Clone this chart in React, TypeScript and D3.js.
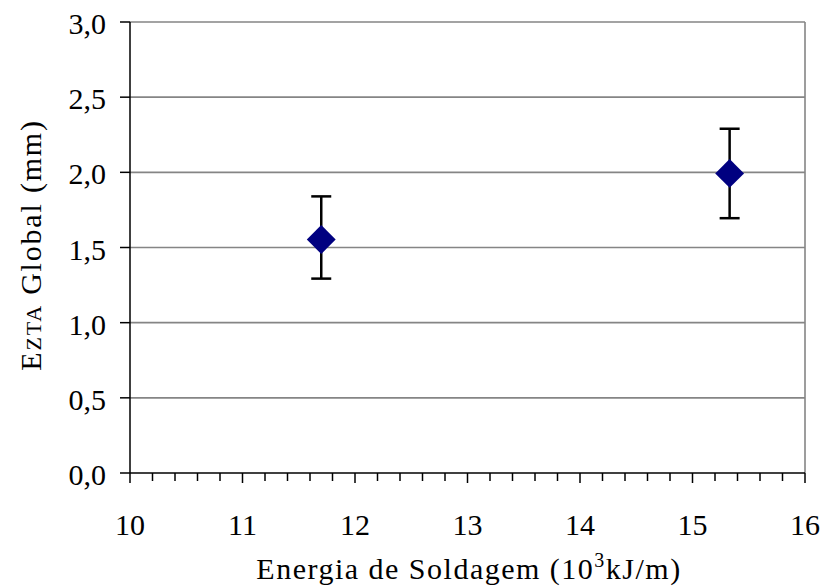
import React from 'react'
import * as d3 from 'd3'

// values
const energy = [11.7, 15.33]
const ezta = [1.553, 1.993]
const errLow = [1.293, 1.695]
const errHigh = [1.84, 2.29]
const yTicks = [0, 0.5, 1, 1.5, 2, 2.5, 3]
const xTicks = [10, 11, 12, 13, 14, 15, 16]

const W = 827
const H = 588
const txt = { fontFamily: 'Liberation Serif' }

const App = () => {
  const x = d3.scaleLinear().domain([10, 16]).range([130, 805])
  const y = d3.scaleLinear().domain([0, 3]).range([473, 22])
  const minor = d3.range(10, 16.001, 0.2)
  const fmt = (v: number) => d3.format('.1f')(v).replace('.', ',')
  const diamond = d3.symbol().type(d3.symbolDiamond2).size(530)

  return (
    <svg width={W} height={H} style={{ position: 'absolute', left: 0, top: 0, background: '#fff' }}>
      {/* grid */}
      {yTicks.slice(1).map(t => (
        <line key={'g' + t} x1={x(10)} x2={x(16)} y1={y(t)} y2={y(t)} stroke="#858585" strokeWidth={1.6} />
      ))}
      <line x1={x(16)} x2={x(16)} y1={y(3)} y2={y(0)} stroke="#858585" strokeWidth={1.6} />

      {/* y axis */}
      <line x1={x(10)} x2={x(10)} y1={y(3)} y2={y(0)} stroke="#000" strokeWidth={1.5} />
      {yTicks.map(t => (
        <g key={'y' + t}>
          <line x1={x(10) - 10} x2={x(10)} y1={y(t)} y2={y(t)} stroke="#000" strokeWidth={1.5} />
          <text x={106} y={y(t)} dy="0.4em" textAnchor="end" fontSize={30} style={txt}>{fmt(t)}</text>
        </g>
      ))}

      {/* x axis */}
      <line x1={x(10)} x2={x(16)} y1={y(0)} y2={y(0)} stroke="#000" strokeWidth={1.5} />
      {minor.map((t, i) => (
        <line key={'m' + i} x1={x(t)} x2={x(t)} y1={y(0)} y2={y(0) + (i % 5 === 0 ? 10 : 8)} stroke="#000" strokeWidth={1.5} />
      ))}
      {xTicks.map(t => (
        <text key={'x' + t} x={x(t)} y={535} textAnchor="middle" fontSize={30} style={txt}>{t}</text>
      ))}

      {/* error bars + points */}
      {energy.map((e, i) => (
        <g key={'p' + i}>
          <line x1={x(e)} x2={x(e)} y1={y(errLow[i])} y2={y(errHigh[i])} stroke="#000" strokeWidth={2.5} />
          <line x1={x(e) - 10} x2={x(e) + 10} y1={y(errLow[i])} y2={y(errLow[i])} stroke="#000" strokeWidth={2.5} />
          <line x1={x(e) - 10} x2={x(e) + 10} y1={y(errHigh[i])} y2={y(errHigh[i])} stroke="#000" strokeWidth={2.5} />
          <path d={diamond() as string} transform={`translate(${x(e)},${y(ezta[i])})`} fill="#000080" />
        </g>
      ))}

      {/* axis titles */}
      <text x={469} y={579} textAnchor="middle" fontSize={30} letterSpacing={1.5} style={txt}>
        Energia de Soldagem (10<tspan dy={-12} fontSize={20}>3</tspan><tspan dy={12}>kJ/m)</tspan>
      </text>
      <text transform={`translate(41,245) rotate(-90)`} textAnchor="middle" fontSize={30} letterSpacing={1.8} style={txt}>
        E<tspan fontSize={22}>ZTA</tspan> Global (mm)
      </text>
    </svg>
  )
}

export default App
